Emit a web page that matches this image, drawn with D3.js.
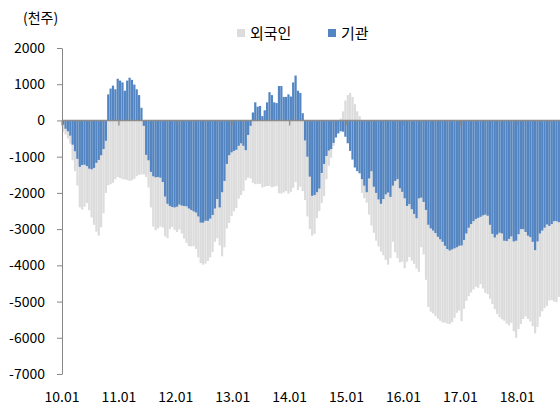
<!DOCTYPE html>
<html>
<head>
<meta charset="utf-8">
<script src="https://cdn.jsdelivr.net/npm/d3@7"></script>
<style>
  html, body { margin: 0; padding: 0; background: #fff; }
  svg text { font-family: "Noto Sans CJK KR", "Noto Sans", sans-serif; fill: #000; }
</style>
</head>
<body>
<div id="chart"></div>
<script>
// Cumulative net buying (천주), half-month steps from 2010.01
const tickLabels = ['10.01', '11.01', '12.01', '13.01', '14.01', '15.01', '16.01', '17.01', '18.01'];
const seriesNames = ['외국인', '기관'];

// 외국인 (gray)
const foreign = [
  -320,-390,-500,-640,-1100,-1400,-1800,-2400,-2460,-2380,
  -2280,-2480,-2680,-2880,-3070,-3180,-2950,-2560,-2000,-1790,
  -1760,-1720,-1620,-1560,-1590,-1620,-1630,-1640,-1670,-1650,
  -1610,-1540,-1500,-1490,-1490,-1560,-1850,-2400,-2930,-3030,
  -2980,-2930,-2960,-3200,-3250,-3000,-2940,-3020,-3080,-3010,
  -3120,-3260,-3380,-3470,-3480,-3470,-3550,-3780,-3940,-3980,
  -3950,-3880,-3780,-3630,-3350,-3250,-3450,-3750,-3500,-2980,
  -2830,-2640,-2510,-2420,-2160,-2060,-1950,-1650,-1580,-1600,
  -1720,-1760,-1750,-1750,-1850,-1830,-1810,-1810,-1850,-1830,
  -1810,-2010,-2020,-1990,-1950,-2020,-1970,-1860,-1700,-1920,
  -1830,-1950,-2200,-2650,-3000,-3180,-3130,-2700,-2500,-2280,
  -2090,-1620,-1250,-1030,-700,-420,-150,50,250,550,
  700,760,650,450,250,120,-2000,-2150,-2270,-2600,
  -2900,-3100,-3320,-3480,-3620,-3720,-3850,-3980,-3800,-3350,
  -3640,-3800,-3920,-3900,-4080,-3900,-3770,-3870,-3960,-4090,
  -4180,-3500,-3700,-4400,-5150,-5280,-5330,-5400,-5470,-5530,
  -5580,-5580,-5610,-5620,-5570,-5450,-5310,-5250,-5540,-5200,
  -4980,-4850,-4750,-4670,-4590,-4620,-4520,-4640,-4760,-4790,
  -4920,-5070,-5210,-5340,-5430,-5490,-5530,-5610,-5660,-5590,
  -5820,-6000,-5760,-5620,-5480,-5410,-5480,-5550,-5680,-5880,
  -5700,-5420,-5270,-5180,-5120,-4970,-4960,-5000,-5020,-4870
];

// 기관 (blue)
const institution = [
  -120,-230,-300,-420,-670,-850,-1060,-1280,-1230,-1220,
  -1260,-1330,-1350,-1310,-1170,-1090,-960,-790,-560,720,
  880,960,860,1150,1100,1050,820,1100,1180,1120,
  990,860,700,350,-150,-950,-1100,-1420,-1540,-1570,
  -1560,-1580,-1700,-2100,-2300,-2360,-2390,-2400,-2380,-2320,
  -2350,-2360,-2370,-2430,-2470,-2510,-2540,-2650,-2820,-2820,
  -2770,-2770,-2710,-2610,-2430,-2170,-2400,-1980,-1670,-1200,
  -960,-880,-840,-810,-700,-630,-700,-820,-400,-150,
  220,500,380,400,120,280,500,780,700,500,
  480,950,950,650,650,720,660,1050,1240,820,
  760,200,-550,-1000,-1550,-2080,-2060,-1980,-1880,-1450,
  -1200,-980,-830,-790,-620,-470,-360,-300,-310,-450,
  -630,-840,-1080,-1300,-1400,-1460,-1620,-1800,-1980,-1600,
  -1400,-1830,-2000,-2180,-2300,-2170,-2040,-1990,-2110,-1800,
  -1670,-1620,-1870,-1970,-2150,-2360,-2310,-2450,-2580,-2700,
  -2150,-2130,-2250,-2470,-2880,-2980,-3040,-3110,-3210,-3280,
  -3350,-3460,-3550,-3590,-3560,-3530,-3500,-3460,-3450,-3300,
  -3120,-2960,-2860,-2780,-2720,-2690,-2660,-2620,-2600,-2630,
  -2880,-3130,-3230,-3150,-3100,-3120,-3320,-3330,-3270,-3200,
  -3340,-3320,-3140,-3000,-3000,-3080,-3180,-3220,-3350,-3580,
  -3340,-3120,-3040,-2960,-2870,-2910,-2860,-2780,-2780,-2810
];

const width = 560;
const height = 405;
const colors = ['#dcdcdc', '#5285c2'];
const stepsPerYear = 24;

const svg = d3.select('#chart').append('svg')
  .attr('width', width)
  .attr('height', height);

const x = d3.scaleBand()
  .domain(d3.range(foreign.length))
  .range([62, 560])
  .paddingInner(0.06)
  .paddingOuter(0.03);

const y = d3.scaleLinear()
  .domain([-7000, 2000])
  .range([374, 48]);

// yearly positions (left edge of the first half-month of each year)
const step = x.step();
const yearX = i => 62 + i * stepsPerYear * step;

// bars: gray behind, blue in front (100% overlap)
[foreign, institution].forEach((vals, s) => {
  svg.append('g')
    .selectAll('rect')
    .data(vals)
    .join('rect')
    .attr('x', (d, i) => x(i))
    .attr('width', x.bandwidth())
    .attr('y', d => y(Math.max(0, d)))
    .attr('height', d => Math.abs(y(d) - y(0)))
    .attr('fill', colors[s]);
});

// y axis
const yAxis = svg.append('g')
  .attr('transform', 'translate(62,0)')
  .call(d3.axisLeft(y)
    .tickValues(d3.range(-7000, 2001, 1000))
    .tickSize(5)
    .tickSizeOuter(0)
    .tickPadding(12)
    .tickFormat(d => String(d)));
yAxis.select('.domain').attr('stroke', '#868686');
yAxis.selectAll('.tick line').attr('stroke', '#868686');
yAxis.selectAll('.tick text')
  .style('font-size', '14px')
  .style('font-family', '"Noto Sans CJK KR", "Noto Sans", sans-serif');

// zero line with yearly ticks
svg.append('line')
  .attr('x1', 62).attr('x2', 560)
  .attr('y1', y(0)).attr('y2', y(0))
  .attr('stroke', '#8c8c8c')
  .attr('stroke-width', 1.5);

svg.append('g')
  .selectAll('line')
  .data(tickLabels)
  .join('line')
  .attr('x1', (d, i) => yearX(i)).attr('x2', (d, i) => yearX(i))
  .attr('y1', y(0)).attr('y2', y(0) + 5)
  .attr('stroke', '#8c8c8c')
  .attr('stroke-width', 1.2);

// x labels at the bottom
svg.append('g')
  .selectAll('text')
  .data(tickLabels)
  .join('text')
  .attr('x', (d, i) => yearX(i))
  .attr('y', 402)
  .attr('text-anchor', 'middle')
  .style('font-size', '14px')
  .text(d => d);

// unit label
svg.append('text')
  .attr('x', 23)
  .attr('y', 23)
  .style('font-size', '14px')
  .text('(천주)');

// legend
const legendX = [237, 328];
seriesNames.forEach((name, s) => {
  svg.append('rect')
    .attr('x', legendX[s]).attr('y', 29)
    .attr('width', 8).attr('height', 8)
    .attr('fill', colors[s]);
  svg.append('text')
    .attr('x', legendX[s] + 13)
    .attr('y', 39)
    .style('font-size', '15px')
    .text(name);
});
</script>
</body>
</html>
